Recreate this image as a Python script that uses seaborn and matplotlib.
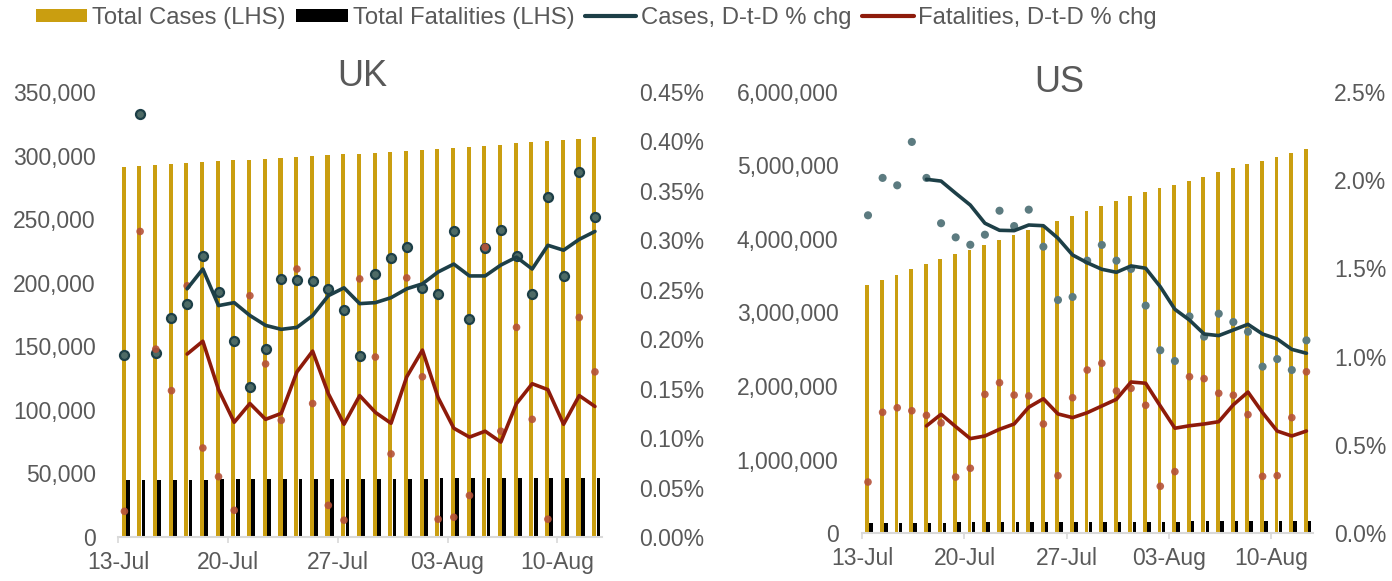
import numpy as np
import pandas as pd
import matplotlib
matplotlib.use("Agg")
import matplotlib.pyplot as plt
from matplotlib.patches import Patch
from matplotlib.lines import Line2D
import seaborn as sns

sns.set_style("white")
plt.rcParams['font.family'] = ['Liberation Sans', 'DejaVu Sans']

# ---------------- data ----------------
dates = pd.date_range("2020-07-13", "2020-08-12", freq="D")
tick_labels = ["13-Jul", "20-Jul", "27-Jul", "03-Aug", "10-Aug"]

uk_total_cases = [290.9, 291.9, 292.7, 293.5, 294.0, 294.8, 295.6, 296.4, 296.9, 297.4,
                  298.2, 298.7, 299.5, 300.3, 301.1, 301.6, 302.1, 302.9, 303.9, 304.7,
                  305.3, 306.1, 306.8, 307.9, 308.7, 309.7, 310.5, 311.6, 312.4, 313.4, 314.5]  # thousands
uk_total_deaths = [44.8, 44.9, 44.9, 45.0, 45.1, 45.2, 45.3, 45.3, 45.4, 45.4,
                   45.5, 45.6, 45.7, 45.7, 45.8, 45.9, 45.9, 45.9, 46.0, 46.0,
                   46.1, 46.2, 46.2, 46.3, 46.4, 46.4, 46.5, 46.5, 46.6, 46.6, 46.6]  # thousands
uk_cases_chg = [0.184, 0.428, 0.186, 0.221, 0.236, 0.284, 0.248, 0.198, 0.152, 0.190,
                0.261, 0.260, 0.259, 0.251, 0.230, 0.183, 0.266, 0.282, 0.293, 0.252,
                0.246, 0.309, 0.220, 0.292, 0.310, 0.284, 0.246, 0.344, 0.264, 0.369, 0.324]
uk_deaths_chg = [0.026, 0.309, 0.190, 0.148, 0.254, 0.090, 0.061, 0.027, 0.244, 0.175,
                 0.118, 0.271, 0.135, 0.032, 0.017, 0.261, 0.182, 0.084, 0.262, 0.162,
                 0.018, 0.020, 0.042, 0.293, 0.107, 0.212, 0.119, 0.018, np.nan, 0.222, 0.167]
uk_cases_avg = [np.nan] * 4 + [0.251, 0.271, 0.234, 0.237, 0.224, 0.214, 0.210, 0.212, 0.224, 0.244,
                               0.252, 0.236, 0.237, 0.242, 0.251, 0.256, 0.268, 0.276, 0.264, 0.264,
                               0.275, 0.283, 0.271, 0.295, 0.290, 0.301, 0.309]
uk_deaths_avg = [np.nan] * 4 + [0.185, 0.198, 0.149, 0.116, 0.135, 0.119, 0.125, 0.167, 0.188, 0.145,
                                0.114, 0.143, 0.126, 0.115, 0.162, 0.189, 0.141, 0.110, 0.101, 0.107,
                                0.096, 0.135, 0.155, 0.149, 0.114, 0.143, 0.132]

us_total_cases = [3.374, 3.442, 3.510, 3.592, 3.660, 3.728, 3.791, 3.850, 3.914, 3.986,
                  4.054, 4.127, 4.186, 4.249, 4.309, 4.376, 4.444, 4.513, 4.581, 4.639,
                  4.689, 4.730, 4.794, 4.844, 4.907, 4.961, 5.016, 5.066, 5.116, 5.166, 5.220]  # millions
us_total_deaths = [0.137, 0.138, 0.139, 0.140, 0.141, 0.142, 0.143, 0.143, 0.144, 0.145,
                   0.146, 0.147, 0.148, 0.149, 0.150, 0.151, 0.152, 0.153, 0.154, 0.155,
                   0.155, 0.156, 0.157, 0.158, 0.159, 0.160, 0.161, 0.162, 0.163, 0.164, 0.166]  # millions
us_cases_chg = [1.801, 2.013, 1.971, 2.217, 2.013, 1.756, 1.676, 1.634, 1.691, 1.827,
                1.740, 1.833, 1.623, 1.321, 1.338, 1.544, 1.633, 1.544, 1.497, 1.289,
                1.036, 0.975, 1.228, 1.113, 1.243, 1.196, 1.141, 0.943, 0.986, 0.924, 1.092]
us_deaths_chg = [0.289, 0.684, 0.710, 0.693, 0.667, 0.624, 0.317, 0.367, 0.786, 0.852,
                 0.782, 0.777, 0.618, 0.325, 0.767, 0.924, 0.962, 0.805, 0.820, 0.724,
                 0.265, 0.348, 0.886, 0.875, 0.792, 0.781, 0.671, 0.321, 0.325, 0.654, 0.914]
us_cases_avg = [np.nan] * 4 + [2.005, 1.995, 1.926, 1.859, 1.756, 1.716, 1.714, 1.746, 1.742, 1.671,
                               1.576, 1.532, 1.495, 1.478, 1.514, 1.501, 1.396, 1.268, 1.207, 1.128,
                               1.119, 1.151, 1.183, 1.128, 1.100, 1.041, 1.019]
us_deaths_avg = [np.nan] * 4 + [0.607, 0.673, 0.603, 0.535, 0.550, 0.588, 0.618, 0.713, 0.761, 0.675,
                                0.654, 0.682, 0.720, 0.758, 0.856, 0.849, 0.720, 0.594, 0.608, 0.618,
                                0.631, 0.727, 0.799, 0.682, 0.578, 0.550, 0.578]

# ---------------- style ----------------
GOLD = "#CA9E10"
BLACK = "#000000"
TEAL = "#1D3F47"
TEAL_PT = "#4E6B66"
TEAL_PT_US = "#5C7B80"
RED = "#8E1B0B"
RED_PT = "#B5523A"
GREY = "#595959"
TICK_FS = 16.5

W, H = 1392, 581
fig = plt.figure(figsize=(W / 100, H / 100), dpi=100)


def frac(x0, y0, x1, y1):
    return [x0 / W, 1 - y1 / H, (x1 - x0) / W, (y1 - y0) / H]


def panel(rect, cases, deaths, cchg, dchg, cavg, davg, scale, ylim_l, yticks_l,
          ylim_r, yticks_r, rfmt, title, title_x, title_base, lpad, rpad, pt_edge, pt_col, pt_size):
    ax = fig.add_axes(rect)
    n = len(cases)
    idx = np.arange(n)
    df = pd.DataFrame({"x": idx, "cases": np.array(cases) * scale, "deaths": np.array(deaths) * scale,
                       "cchg": cchg, "dchg": dchg, "cavg": cavg, "davg": davg})
    ax.bar(df["x"], df["cases"], width=0.26, color=GOLD, linewidth=0)
    ax.bar(df["x"] + 0.27, df["deaths"], width=0.24, color=BLACK, linewidth=0)
    ax.set_ylim(*ylim_l)
    ax.set_yticks(yticks_l)
    ax.set_yticklabels([f"{v:,.0f}" for v in yticks_l])
    ax.set_xlim(-0.36, n - 0.5)
    ax.set_xticks(np.arange(0, n, 7) - 0.35)
    ax.set_xticklabels(tick_labels)
    ax.set_xlabel("")
    ax.set_ylabel("")
    for s in ["top", "left", "right"]:
        ax.spines[s].set_visible(False)
    ax.spines["bottom"].set_color("#D9D9D9")
    ax.spines["bottom"].set_linewidth(1.5)
    ax.tick_params(axis="x", length=4, width=1.2, color="#D9D9D9", labelsize=TICK_FS,
                   labelcolor=GREY, pad=6, direction="out", bottom=True)
    ax.tick_params(axis="y", length=0, labelsize=TICK_FS, labelcolor=GREY, pad=lpad)

    ax2 = ax.twinx()
    sns.scatterplot(x=df["x"] + 0.05, y=df["cchg"], ax=ax2, color=pt_col, edgecolor=pt_edge,
                    linewidth=1.6 if pt_edge != "none" else 0, s=pt_size, zorder=3, legend=False)
    sns.scatterplot(x=df["x"] + 0.05, y=df["dchg"], ax=ax2, color=RED_PT, edgecolor="none",
                    linewidth=0, s=30, alpha=0.9, zorder=3, legend=False)
    sns.lineplot(x=df["x"] + 0.05, y=df["cavg"], ax=ax2, color=TEAL, linewidth=2.6, zorder=4)
    sns.lineplot(x=df["x"] + 0.05, y=df["davg"], ax=ax2, color=RED, linewidth=2.6, zorder=4)
    ax2.set_ylim(*ylim_r)
    ax2.set_yticks(yticks_r)
    ax2.set_yticklabels([rfmt.format(v) for v in yticks_r])
    ax2.set_xlim(-0.36, n - 0.5)
    ax2.set_ylabel("")
    ax2.set_xlabel("")
    for s in ["top", "left", "right", "bottom"]:
        ax2.spines[s].set_visible(False)
    ax2.tick_params(axis="y", length=0, labelsize=TICK_FS, labelcolor=GREY, pad=rpad)
    ax.text(title_x, title_base, title, transform=ax.transAxes, ha="center", va="baseline",
            fontsize=26, color=GREY)
    return ax, ax2


panel(frac(118, 92, 602, 537), uk_total_cases, uk_total_deaths, uk_cases_chg, uk_deaths_chg,
      uk_cases_avg, uk_deaths_avg, 1000, (0, 350000), list(range(0, 350001, 50000)),
      (0, 0.45), [0, 0.05, 0.10, 0.15, 0.20, 0.25, 0.30, 0.35, 0.40, 0.45], "{:.2f}%",
      "UK", 0.504, (537 - 86) / 445, 16, 27, TEAL, TEAL_PT, 42)

panel(frac(862, 92, 1313, 533), us_total_cases, us_total_deaths, us_cases_chg, us_deaths_chg,
      us_cases_avg, us_deaths_avg, 1_000_000, (0, 6_000_000), list(range(0, 6_000_001, 1_000_000)),
      (0, 2.5), [0, 0.5, 1.0, 1.5, 2.0, 2.5], "{:.1f}%",
      "US", (1059 - 862) / 451, (533 - 92) / 441, 17, 15, "none", TEAL_PT_US, 34)

handles = [Patch(facecolor=GOLD, edgecolor="none"), Patch(facecolor=BLACK, edgecolor="none"),
           Line2D([], [], color=TEAL, linewidth=3), Line2D([], [], color=RED, linewidth=3)]
labels = ["Total Cases (LHS)", "Total Fatalities (LHS)", "Cases, D-t-D % chg", "Fatalities, D-t-D % chg"]
fig.legend(handles, labels, loc="upper left", bbox_to_anchor=(36 / W, 1 - 7 / H), ncol=4,
           frameon=False, fontsize=17.2, handlelength=2.15, handleheight=0.5, handletextpad=0.2,
           columnspacing=0.45, borderpad=0, borderaxespad=0, labelcolor=GREY)

fig.savefig("out.png", dpi=100)
